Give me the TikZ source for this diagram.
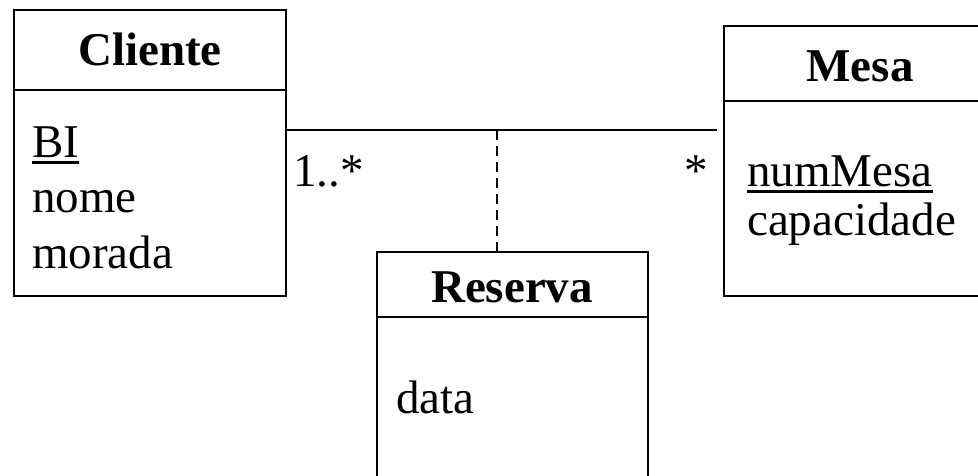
\documentclass[tikz,border=0pt]{standalone}
\usepackage{fontspec}
\setmainfont{Liberation Serif}
% underlined attribute (identifier)
\newcommand\ulattr[1]{\setbox0\hbox{#1}\rlap{\rule[-6pt]{\wd0}{2.6pt}}\box0}
\begin{document}
\begin{tikzpicture}[x=1pt,y=-1pt,
    classbox/.style={draw,line width=2.6pt,rectangle,inner sep=0pt},
    classname/.style={anchor=base,inner sep=0pt,font=\fontsize{47}{55}\selectfont\bfseries},
    attr/.style={anchor=base west,inner sep=0pt,font=\fontsize{47}{55}\selectfont},
    mult/.style={anchor=base west,inner sep=0pt,font=\fontsize{47}{55}\selectfont},
    link/.style={line width=2.6pt},
    assoc/.style={line width=2.6pt,dash pattern=on 10pt off 6pt}]
\useasboundingbox (0,0) rectangle (978,476);

% Cliente
\node[classbox,minimum width=272pt,minimum height=286pt] (cliente) at (150,153) {};
\draw[line width=2.6pt] (14,90) -- (286,90);
\node[classname] (clienteT) at (150,66) {Cliente};
\node[attr] (bi) at (32,158) {\ulattr{BI}};
\node[attr] (nome) at (32,213) {nome};
\node[attr] (morada) at (32,268) {morada};

% Mesa (runs past the right border)
\node[classbox,minimum width=276pt,minimum height=270pt] (mesa) at (862,161) {};
\draw[line width=2.6pt] (724,101) -- (1000,101);
\node[classname] (mesaT) at (860,82) {Mesa};
\node[attr] (nummesa) at (747,187) {\ulattr{numMesa}};
\node[attr] (capacidade) at (747,236) {capacidade};

% Reserva (runs past the bottom border)
\node[classbox,minimum width=271pt,minimum height=250pt] (reserva) at (512.5,377) {};
\draw[line width=2.6pt] (377,317) -- (648,317);
\node[classname] (reservaT) at (512,302) {Reserva};
\node[attr] (data) at (396,413) {data};

% association Cliente -- Mesa
\coordinate (a1) at (cliente.east |- 0,130);
\coordinate (a2) at (mesa.west |- 0,130);
\draw[link,shorten >=6pt] (a1) -- (a2);
\coordinate (mid) at (497,130);
\draw[assoc] (mid) -- (reserva.north -| mid);

% multiplicities
\node[mult] (m1) at (293,187) {1..*};
\node[mult,anchor=base east] (m2) at (708,187) {*};
\end{tikzpicture}
\end{document}
